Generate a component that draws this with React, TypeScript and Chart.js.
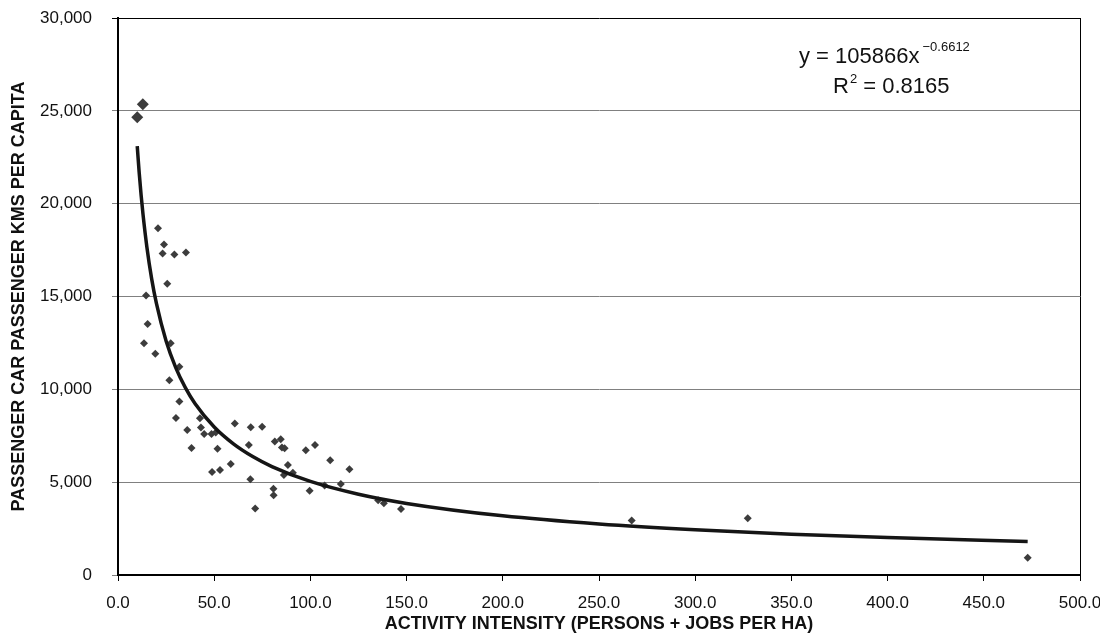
import React, { useEffect, useRef } from "react";
import { Chart, registerables } from "chart.js";

Chart.register(...registerables);

// Two large markers (highest car use)
const largeX = [10.0, 12.9];
const largeY = [24650, 25350];

// Cities: activity intensity (x) and passenger car kms per capita (y)
const cityX = [
  20.8, 23.9, 23.2, 29.3, 35.3, 25.6, 14.6, 15.4, 13.5, 27.4,
  19.4, 31.9, 26.7, 31.9, 30.1, 36.0, 42.6, 43.1, 44.8, 48.6,
  50.8, 38.2, 51.7, 60.7, 69.0, 74.9, 68.0, 48.9, 53.0, 58.6,
  68.8, 71.3, 81.5, 84.6, 85.2, 86.6, 88.3, 90.9, 86.2, 80.8,
  80.9, 97.6, 102.4, 110.3, 99.6, 107.4, 115.8, 120.3, 135.2, 138.2,
  147.1, 267.0, 327.3, 472.8,
];
const cityY = [
  18680, 17800, 17310, 17260, 17370, 15680, 15050, 13520, 12480, 12480,
  11910, 11210, 10490, 9340, 8460, 7810, 8440, 7940, 7600, 7600,
  7680, 6840, 6800, 8160, 7960, 7980, 7000, 5550, 5660, 5980,
  5160, 3580, 7190, 7310, 6870, 6830, 5930, 5510, 5380, 4650,
  4300, 6720, 7000, 6180, 4540, 4820, 4900, 5700, 4020, 3860,
  3560, 2930, 3050, 930,
];

// Power trend line
const trendX = [10, 11, 12, 13, 15, 17.5, 20, 25, 30, 35, 40, 50, 60, 70, 80, 100, 125, 150, 200, 250, 300, 350, 400, 472.8];
const trendY = [23100, 21680, 20470, 19420, 17670, 15950, 14610, 12600, 11170, 10090, 9235, 7968, 7062, 6379, 5840, 5039, 4349, 3856, 3187, 2749, 2437, 2201, 2015, 1804];

const xTickValues = [0, 50, 100, 150, 200, 250, 300, 350, 400, 450, 500];
const yTickValues = [0, 5000, 10000, 15000, 20000, 25000, 30000];

const equationText = "y = 105866x";
const exponentText = "\u22120.6612";
const rText = "R";
const rSupText = "2";
const rValueText = " = 0.8165";

const xTitle = "ACTIVITY INTENSITY (PERSONS + JOBS PER HA)";
const yTitle = "PASSENGER CAR PASSENGER KMS PER CAPITA";

const FONT = "'Liberation Sans', Arial, Helvetica, sans-serif";

const pts = (xs: number[], ys: number[]) => xs.map((x, i) => ({ x, y: ys[i] }));

export default function App() {
  const ref = useRef<HTMLCanvasElement | null>(null);

  useEffect(() => {
    if (!ref.current) return;

    const framePlugin = {
      id: "frame",
      beforeDatasetsDraw(chart: any) {
        const { ctx, chartArea } = chart;
        ctx.save();
        ctx.strokeStyle = "#000";
        ctx.lineWidth = 1;
        ctx.beginPath();
        ctx.moveTo(chartArea.right + 0.5, chartArea.top);
        ctx.lineTo(chartArea.right + 0.5, chartArea.bottom);
        ctx.stroke();
        ctx.restore();
      },
    };

    const equationPlugin = {
      id: "equation",
      afterDraw(chart: any) {
        const { ctx, chartArea } = chart;
        const x0 = chartArea.left + 681;
        const y0 = chartArea.top + 45;
        ctx.save();
        ctx.fillStyle = "#111";
        ctx.textBaseline = "alphabetic";
        ctx.textAlign = "left";
        ctx.font = `22px ${FONT}`;
        ctx.fillText(equationText, x0, y0);
        const w = ctx.measureText(equationText).width;
        ctx.font = `13px ${FONT}`;
        ctx.fillText(exponentText, x0 + w + 3, y0 - 12);
        const x1 = chartArea.left + 715;
        const y1 = chartArea.top + 75;
        ctx.font = `22px ${FONT}`;
        ctx.fillText(rText, x1, y1);
        const rw = ctx.measureText(rText).width;
        ctx.font = `13px ${FONT}`;
        ctx.fillText(rSupText, x1 + rw + 1, y1 - 10);
        const sw = ctx.measureText(rSupText).width;
        ctx.font = `22px ${FONT}`;
        ctx.fillText(rValueText, x1 + rw + sw + 1, y1);
        ctx.restore();
      },
    };

    const chart = new Chart(ref.current, {
      type: "scatter",
      data: {
        datasets: [
          {
            type: "line",
            label: "Trend",
            data: pts(trendX, trendY),
            borderColor: "#151515",
            borderWidth: 3.5,
            pointRadius: 0,
            fill: false,
            showLine: true,
            cubicInterpolationMode: "monotone",
            order: 0,
          } as any,
          {
            label: "Large",
            data: pts(largeX, largeY),
            pointStyle: "rectRot",
            pointRadius: 6,
            backgroundColor: "#3c3c3c",
            borderWidth: 0,
            order: 1,
          },
          {
            label: "Cities",
            data: pts(cityX, cityY),
            pointStyle: "rectRot",
            pointRadius: 4,
            backgroundColor: "#3c3c3c",
            borderWidth: 0,
            order: 2,
          },
        ],
      },
      options: {
        animation: false,
        responsive: false,
        devicePixelRatio: 1,
        layout: { padding: { top: 10, right: 20, left: 0, bottom: 0 } },
        plugins: {
          legend: { display: false },
          tooltip: { enabled: false },
        },
        scales: {
          x: {
            type: "linear",
            min: 0,
            max: 500,
            afterFit(scale: any) {
              scale.height = 61;
              scale.paddingLeft = 0;
              scale.paddingRight = 0;
            },
            afterBuildTicks(scale: any) {
              scale.ticks = xTickValues.map((v) => ({ value: v }));
            },
            ticks: {
              callback: (v: any) => Number(v).toFixed(1),
              color: "#111",
              font: { family: FONT, size: 17 },
              padding: 12,
              maxRotation: 0,
            },
            grid: {
              drawOnChartArea: false,
              drawTicks: true,
              tickLength: 6,
              color: "#000",
            },
            border: { display: true, color: "#000", width: 2 },
            title: {
              display: true,
              text: xTitle,
              color: "#111",
              font: { family: FONT, size: 18, weight: "bold" },
              padding: { top: 0, bottom: 1 },
            },
          },
          y: {
            type: "linear",
            min: 0,
            max: 30000,
            afterFit(scale: any) {
              scale.width = 110;
              scale.paddingTop = 0;
              scale.paddingBottom = 0;
            },
            afterBuildTicks(scale: any) {
              scale.ticks = yTickValues.map((v) => ({ value: v }));
            },
            ticks: {
              callback: (v: any) => Number(v).toLocaleString("en-US"),
              color: "#111",
              font: { family: FONT, size: 17 },
              padding: 20,
            },
            grid: {
              drawTicks: true,
              tickLength: 6,
              color: (c: any) => (c.tick && c.tick.value === 30000 ? "#000" : "#808080"),
              lineWidth: 1,
            },
            border: { display: true, color: "#000", width: 2 },
            title: {
              display: true,
              text: yTitle,
              color: "#111",
              font: { family: FONT, size: 18, weight: "bold" },
              padding: { top: 0, bottom: 0 },
            },
          },
        },
      },
      plugins: [framePlugin, equationPlugin],
    } as any);

    return () => chart.destroy();
  }, []);

  return (
    <div style={{ width: 1092, height: 628 }}>
      <canvas ref={ref} width={1092} height={628} style={{ display: "block", width: 1092, height: 628 }} />
    </div>
  );
}
